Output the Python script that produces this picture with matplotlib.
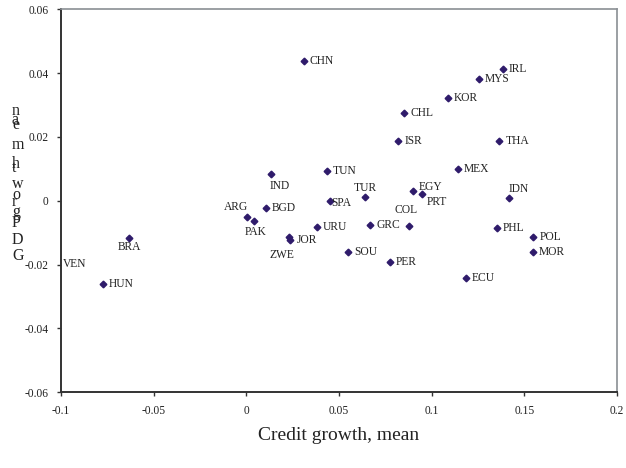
import matplotlib
matplotlib.use("Agg")
import matplotlib.pyplot as plt

# country codes, credit growth (x) and GDP growth (y), means
countries = ["CHN", "IRL", "MYS", "KOR", "CHL", "ISR", "THA", "MEX", "TUN", "IND",
             "TUR", "EGY", "PRT", "IDN", "SPA", "BGD", "ARG", "PAK", "COL", "GRC",
             "URU", "PHL", "JOR", "ZWE", "POL", "MOR", "SOU", "PER", "ECU", "BRA",
             "HUN", "VEN"]
credit = [0.0311, 0.1385, 0.1255, 0.1088, 0.0851, 0.0820, 0.1365, 0.1142, 0.0434, 0.0133,
          0.0640, 0.0898, 0.0950, 0.1416, 0.0451, 0.0104, 0.0005, 0.0041, 0.0876, 0.0669,
          0.0380, 0.1353, 0.0232, 0.0236, 0.1548, 0.1545, 0.0549, 0.0775, 0.1185, -0.0631,
          -0.0775, -0.1080]
gdp = [0.0439, 0.0413, 0.0381, 0.0323, 0.0275, 0.0187, 0.0187, 0.0100, 0.0093, 0.0084,
       0.0013, 0.0031, 0.0022, 0.0010, -0.0001, -0.0022, -0.0050, -0.0064, -0.0080, -0.0076,
       -0.0083, -0.0084, -0.0112, -0.0122, -0.0113, -0.0159, -0.0159, -0.0193, -0.0243, -0.0117,
       -0.0261, -0.0197]

xticks = [-0.1, -0.05, 0, 0.05, 0.1, 0.15, 0.2]
xtick_labels = ["-0.1", "-0.05", "0", "0.05", "0.1", "0.15", "0.2"]
yticks = [-0.06, -0.04, -0.02, 0, 0.02, 0.04, 0.06]
ytick_labels = ["-0.06", "-0.04", "-0.02", "0", "0.02", "0.04", "0.06"]

# label placement: (dx, dy) in pixels, horizontal alignment
label_pos = {
    "IND": (-1, -12, "left"), "ARG": (1, 10, "right"), "PAK": (2, -11, "center"),
    "BRA": (0, -9, "center"), "ZWE": (-8, -15, "center"), "JOR": (7, -3, "left"),
    "VEN": (17, 0, "left"), "TUR": (0, 9, "center"), "EGY": (6, 4, "left"),
    "PRT": (4, -8, "left"), "IDN": (0, 9, "left"), "SPA": (1, -2, "left"),
    "COL": (-3, 16, "center"),
}

serif = "Liberation Serif"
mcol = "#2f1b6b"

fig = plt.figure(figsize=(6.26, 4.68), dpi=100)
ax = fig.add_axes([61 / 626, 1 - 392.3 / 468, 556 / 626, 383 / 468])

ax.plot(credit, gdp, linestyle="none", marker="D", markersize=3.4,
        color=mcol, clip_on=True)

for name, x, y in zip(countries, credit, gdp):
    dx, dy, ha = label_pos.get(name, (6, 0, "left"))
    ax.annotate(name, (x, y), xytext=(dx, dy), textcoords="offset pixels",
                ha=ha, va="center", fontsize=8.3, family=serif, color="#222222",
                annotation_clip=False)

ax.set_xlim(-0.1, 0.2)
ax.set_ylim(-0.06, 0.06)
ax.set_xticks(xticks)
ax.set_xticklabels(xtick_labels)
ax.set_yticks(yticks)
ax.set_yticklabels(ytick_labels)
for lab in ax.get_xticklabels() + ax.get_yticklabels():
    lab.set_family(serif)
    lab.set_fontsize(8.3)
    lab.set_color("#222222")
ax.tick_params(direction="out", length=3, width=1, color="#333333", pad=6)

ax.spines["left"].set_color("#333333")
ax.spines["bottom"].set_color("#333333")
ax.spines["left"].set_linewidth(1.4)
ax.spines["bottom"].set_linewidth(1.4)
ax.spines["top"].set_color("#8a8f94")
ax.spines["right"].set_color("#8a8f94")
ax.spines["top"].set_linewidth(1.2)
ax.spines["right"].set_linewidth(1.2)

fig.text(339 / 626, 1 - 436 / 468, "Credit growth, mean", ha="center", va="center",
         fontsize=14, family=serif, color="#222222")

# stacked y label letters as in the original (bottom to top)
ylab_letters = ["G", "D", "P", "g", "r", "o", "w", "t", "h", "m", "e", "a", "n"]
ylab_py = [256, 240, 223, 212, 202, 195, 184, 168, 164, 145, 125, 120, 111]
for ch, py in zip(ylab_letters, ylab_py):
    fig.text(12 / 626, 1 - py / 468, ch, ha="left", va="center",
             fontsize=11.5, family=serif, color="#222222")

fig.savefig("out.png", dpi=100)
